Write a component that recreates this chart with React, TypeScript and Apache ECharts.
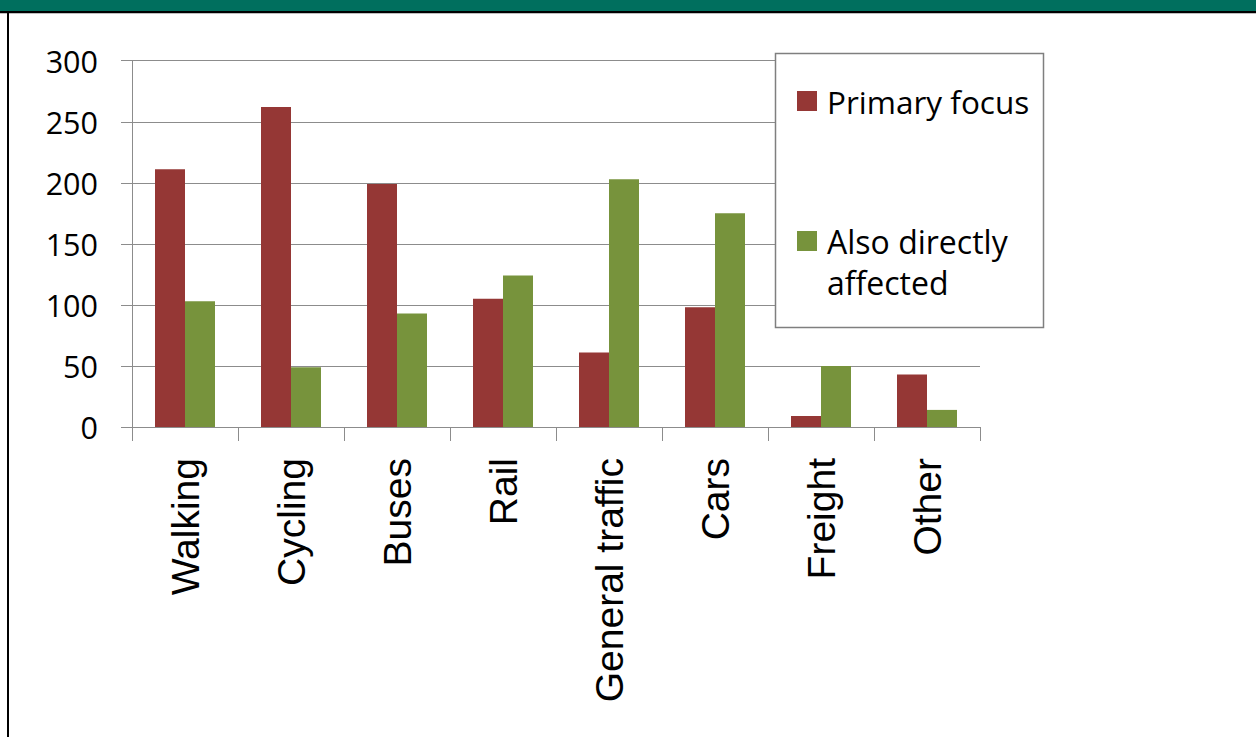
import React, { useEffect, useRef } from "react";
import * as echarts from "echarts";

const categories = ["Walking", "Cycling", "Buses", "Rail", "General traffic", "Cars", "Freight", "Other"];
const primaryFocus = [211, 262, 199, 105, 61, 98, 9, 43];
const alsoAffected = [103, 49, 93, 124, 203, 175, 50, 14];
const seriesNames = ["Primary focus", "Also directly affected"];
const yTicks = { min: 0, max: 300, interval: 50 };

export default function App() {
  const ref = useRef<HTMLDivElement>(null);
  useEffect(() => {
    if (!ref.current) return;
    const chart = echarts.init(ref.current, undefined, { renderer: "svg" });
    const grey = "#8c8c8c";
    chart.setOption({
      animation: false,
      backgroundColor: "#ffffff",
      grid: { left: 132, right: 276, top: 60.7, bottom: 310, containLabel: false },
      xAxis: {
        type: "category",
        data: categories,
        axisLine: { show: true, lineStyle: { color: grey, width: 1 } },
        axisTick: { show: true, length: 14, lineStyle: { color: grey } },
        axisLabel: {
          rotate: 90,
          margin: 31,
          fontSize: 39,
          color: "#000",
          fontFamily: "Liberation Sans",
        },
        splitLine: { show: false },
      },
      yAxis: {
        type: "value",
        min: yTicks.min,
        max: yTicks.max,
        interval: yTicks.interval,
        axisLine: { show: true, lineStyle: { color: grey, width: 1 } },
        axisTick: { show: true, length: 11, lineStyle: { color: grey } },
        axisLabel: { margin: 34, fontSize: 30.5, color: "#000", fontFamily: "Open Sans" },
        splitLine: { show: true, lineStyle: { color: grey, width: 1 } },
      },
      legend: [
        {
          data: [{ name: seriesNames[0], icon: "rect" }],
          left: 797,
          top: 81.5,
          padding: 0,
          itemWidth: 20,
          itemHeight: 20,
          selectedMode: false,
          z: 10,
          textStyle: {
            fontSize: 31.5,
            fontFamily: "Open Sans",
            color: "#000",
            lineHeight: 39,
            padding: [0, 0, 0, 5],
          },
        },
        {
          data: [{ name: seriesNames[1], icon: "rect" }],
          left: 797,
          top: 179.5,
          padding: 0,
          itemWidth: 20,
          itemHeight: 20,
          selectedMode: false,
          z: 10,
          formatter: () => "\u00a0\nAlso directly\naffected",
          textStyle: {
            fontSize: 32,
            fontFamily: "Open Sans",
            color: "#000",
            lineHeight: 41,
            padding: [0, 0, 0, 5],
          },
        },
      ],
      graphic: [
        { type: "rect", z: 100, shape: { x: 0, y: 0, width: 1256, height: 11 }, style: { fill: "#006f5e" } },
        { type: "rect", z: 100, shape: { x: 0, y: 11, width: 1256, height: 2.3 }, style: { fill: "#000" } },
        { type: "rect", z: 100, shape: { x: 7, y: 11, width: 2, height: 726 }, style: { fill: "#000" } },
        {
          type: "rect",
          z: 3,
          shape: { x: 775.5, y: 53.5, width: 268, height: 274 },
          style: { fill: "#fff", stroke: "#7f7f7f", lineWidth: 1.5 },
        },
      ],
      series: [
        {
          name: seriesNames[0],
          type: "bar",
          data: primaryFocus,
          barWidth: 30,
          barGap: "0%",
          itemStyle: { color: "#953735" },
        },
        {
          name: seriesNames[1],
          type: "bar",
          data: alsoAffected,
          barWidth: 30,
          barGap: "0%",
          itemStyle: { color: "#77933c" },
        },
      ],
    });
    return () => chart.dispose();
  }, []);
  return <div ref={ref} style={{ position: "fixed", left: 0, top: 0, width: 1256, height: 737 }} />;
}
